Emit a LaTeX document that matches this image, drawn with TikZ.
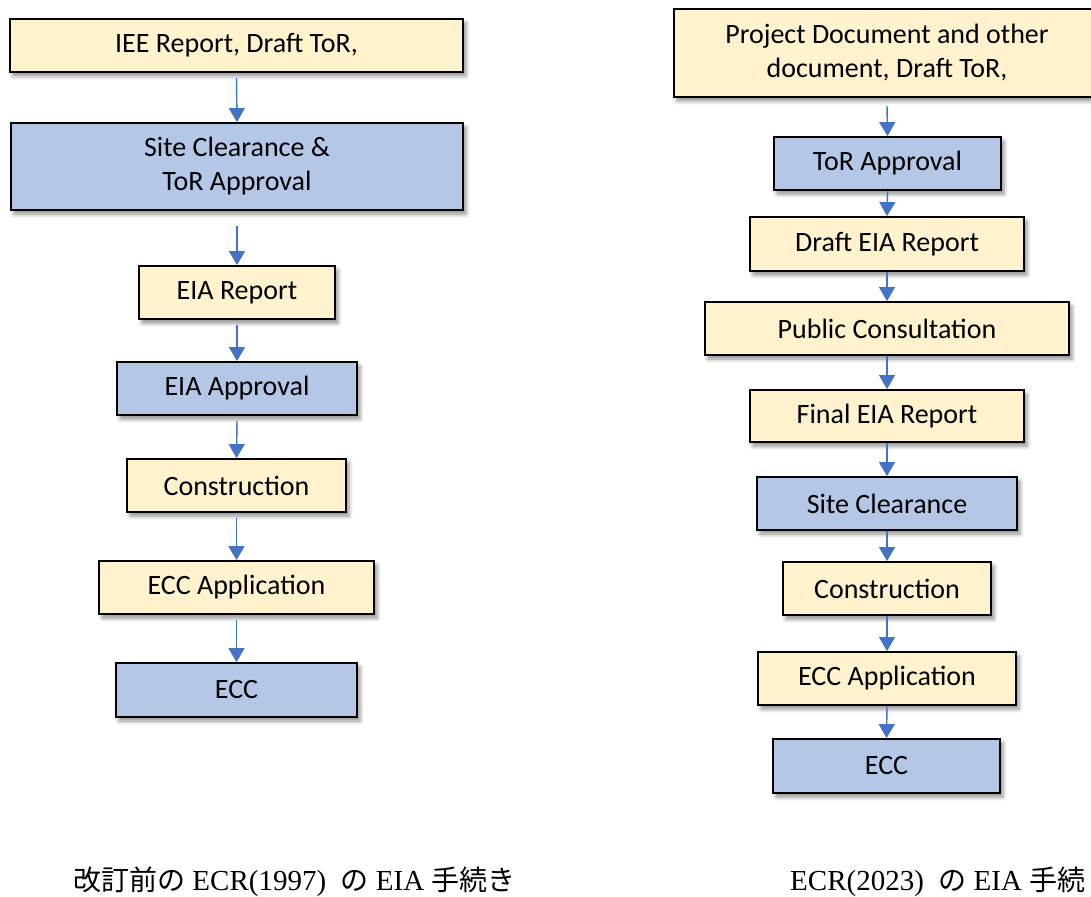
\documentclass[tikz,border=0pt]{standalone}
\usepackage{fontspec}
\setmainfont{Carlito}
\newfontfamily\cjk{Noto Sans CJK JP}
\newfontfamily\capfont{Liberation Serif}
\usetikzlibrary{arrows.meta,shadows.blur}

\definecolor{boxyellow}{HTML}{FFF2CC}
\definecolor{boxblue}{HTML}{B4C7E7}
\definecolor{arrowblue}{HTML}{4472C4}

% Japanese words inside the captions
\newcommand{\jp}[1]{{\cjk\fontsize{28}{32}\selectfont #1}}

\begin{document}
\begin{tikzpicture}[x=1pt,y=-1pt,
  box/.style={draw=black, line width=1.8pt, inner sep=0pt, align=center,
    font=\fontsize{28}{34}\selectfont,
    blur shadow={shadow xshift=3pt, shadow yshift=-4pt,
      shadow blur radius=4pt, shadow opacity=45}},
  ybox/.style={box, fill=boxyellow},
  bbox/.style={box, fill=boxblue},
  flow/.style={draw=arrowblue, line width=1.4pt,
    -{Triangle[width=16pt,length=14pt]}, arrowblue},
  caption/.style={anchor=base west, inner sep=0pt,
    font=\capfont\fontsize{29}{32}\selectfont}
]
\useasboundingbox (0,0) rectangle (1091,896);

% ---- procedure under ECR (1997) ----
\node[ybox, minimum width=453pt, minimum height=53pt] (l1) at (236.5,45.5) {IEE Report, Draft ToR,};
\node[bbox, minimum width=452pt, minimum height=87pt] (l2) at (237,166.5) {Site Clearance \&\\ToR Approval};
\node[ybox, minimum width=196pt, minimum height=53pt] (l3) at (237,292.5) {EIA Report};
\node[bbox, minimum width=240pt, minimum height=53pt] (l4) at (237,388.5) {EIA Approval};
\node[ybox, minimum width=219pt, minimum height=53pt] (l5) at (236.5,485.5) {Construction};
\node[ybox, minimum width=275pt, minimum height=53pt] (l6) at (236.5,587.5) {ECC Application};
\node[bbox, minimum width=241pt, minimum height=54pt] (l7) at (236.5,690) {ECC};

\draw[flow] ([yshift=-5pt]l1.south) -- (l2.north);
\draw[flow] ([yshift=-15pt]l2.south) -- (l3.north);
\draw[flow] ([yshift=-5pt]l3.south) -- (l4.north);
\draw[flow] ([yshift=-5pt]l4.south) -- (l5.north);
\draw[flow] ([yshift=-5pt]l5.south) -- (l6.north);
\draw[flow] ([yshift=-5pt]l6.south) -- (l7.north);

% ---- procedure under ECR (2023) ----
\node[ybox, minimum width=426pt, minimum height=88pt] (r1) at (887,53) {Project Document and other\\document, Draft ToR,};
\node[bbox, minimum width=227pt, minimum height=53pt] (r2) at (887.5,163.5) {ToR Approval};
\node[ybox, minimum width=274pt, minimum height=54pt] (r3) at (887,244) {Draft EIA Report};
\node[ybox, minimum width=364pt, minimum height=53pt] (r4) at (887,328.5) {Public Consultation};
\node[ybox, minimum width=274pt, minimum height=52pt] (r5) at (887,416) {Final EIA Report};
\node[bbox, minimum width=260pt, minimum height=53pt] (r6) at (887,503.5) {Site Clearance};
\node[ybox, minimum width=208pt, minimum height=53pt] (r7) at (887,588.5) {Construction};
\node[ybox, minimum width=258pt, minimum height=53pt] (r8) at (887,678.5) {ECC Application};
\node[bbox, minimum width=227pt, minimum height=54pt] (r9) at (886.5,766) {ECC};

\draw[flow] ([yshift=-8pt]r1.south) -- (r2.north);
\draw[flow] (r2.south) -- (r3.north);
\draw[flow] (r3.south) -- (r4.north);
\draw[flow] (r4.south) -- (r5.north);
\draw[flow] (r5.south) -- (r6.north);
\draw[flow] (r6.south) -- (r7.north);
\draw[flow] (r7.south) -- (r8.north);
\draw[flow] (r8.south) -- (r9.north);

% ---- captions ----
\node[caption] (capold) at (73,890)
  {\jp{改訂前の} ECR(1997)\ \ \jp{の} EIA \jp{手続き}};
\node[caption] (capnew) at (790,890)
  {ECR(2023)\ \ \jp{の} EIA \jp{手続}};
\end{tikzpicture}
\end{document}
